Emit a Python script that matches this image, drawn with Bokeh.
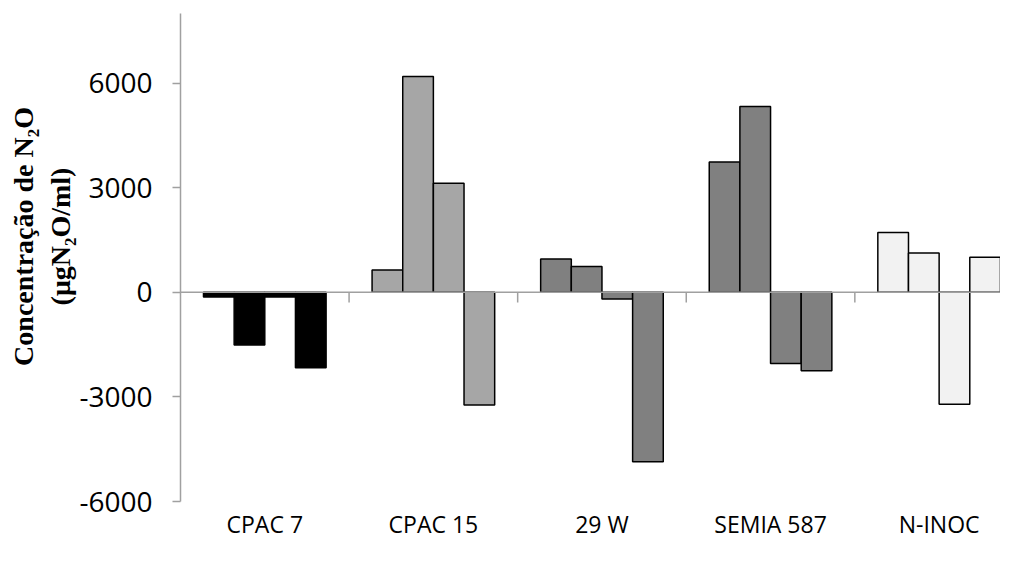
from bokeh.plotting import figure
from bokeh.models import Range1d, FixedTicker, Span, ColumnDataSource
from bokeh.embed import file_html
from bokeh.resources import INLINE

categories = ["CPAC 7", "CPAC 15", "29 W", "SEMIA 587", "N-INOC"]
cpac7 = [-130, -1510, -130, -2160]
cpac15 = [640, 6190, 3130, -3230]
w29 = [960, 740, -190, -4860]
semia587 = [3740, 5330, -2040, -2250]
ninoc = [1720, 1130, -3210, 1010]
group_values = [cpac7, cpac15, w29, semia587, ninoc]
group_colors = ["#000000", "#a6a6a6", "#808080", "#808080", "#f2f2f2"]
y_ticks = [-6000, -3000, 0, 3000, 6000]

n_bars = 4
gap = 1.5
bw = 1.0 / (n_bars + gap)

xs, tops, fills = [], [], []
for i, vals in enumerate(group_values):
    for j, v in enumerate(vals):
        xs.append(i + 0.5 + (j - (n_bars - 1) / 2) * bw)
        tops.append(v)
        fills.append(group_colors[i])
src = ColumnDataSource(dict(x=xs, top=tops, fill=fills))

p = figure(width=1000, height=548, x_range=Range1d(0, 4.864), y_range=Range1d(-6000, 8000),
           output_backend="svg", toolbar_location=None,
           min_border_left=180, min_border_right=0, min_border_top=13, min_border_bottom=47)
p.outline_line_color = None
p.xgrid.visible = False
p.ygrid.visible = False
p.background_fill_color = "white"

p.vbar(x="x", top="top", bottom=0, width=bw, fill_color="fill", line_color="black",
       line_width=1.5, source=src)

axis_gray = "#a0a0a0"
p.add_layout(Span(location=0, dimension="width", line_color=axis_gray, line_width=1.5))
bounds = list(range(1, len(categories)))
p.segment(x0=bounds, y0=[0] * len(bounds), x1=bounds, y1=[-290] * len(bounds),
          line_color=axis_gray, line_width=1.5)

xa = p.xaxis[0]
xa.ticker = FixedTicker(ticks=[i + 0.5 for i in range(len(categories))])
xa.major_label_overrides = {i + 0.5: c for i, c in enumerate(categories)}
xa.axis_line_color = None
xa.major_tick_line_color = None
xa.minor_tick_line_color = None
xa.major_label_text_font = "Open Sans"
xa.major_label_text_font_size = "23px"
xa.major_label_text_color = "black"
xa.major_label_standoff = 0

ya = p.yaxis[0]
ya.ticker = FixedTicker(ticks=y_ticks)
ya.major_label_overrides = {t: str(t) for t in y_ticks}
ya.axis_line_color = axis_gray
ya.axis_line_width = 1.5
ya.major_tick_line_color = axis_gray
ya.major_tick_line_width = 1.5
ya.major_tick_out = 8
ya.major_tick_in = 0
ya.minor_tick_line_color = None
ya.major_label_text_font = "Open Sans"
ya.major_label_text_font_size = "28px"
ya.major_label_text_color = "black"
ya.major_label_standoff = 20
pad = "\u00a0" * 6
ya.axis_label = pad + "Concentração de N\u2082O\n" + pad + "(\u03bcgN\u2082O/ml)"
ya.axis_label_text_font = "Liberation Serif"
ya.axis_label_text_font_style = "bold"
ya.axis_label_text_font_size = "28px"
ya.axis_label_text_color = "black"
ya.axis_label_standoff = 0

open("out.html", "w").write(file_html(p, INLINE))
